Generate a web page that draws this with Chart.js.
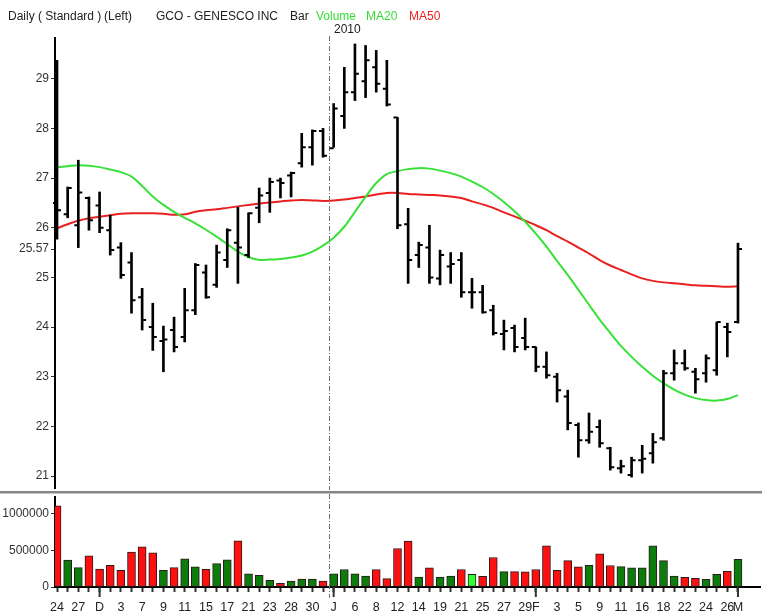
<!DOCTYPE html>
<html>
<head>
<meta charset="utf-8">
<script src="https://cdn.jsdelivr.net/npm/chart.js@4.4.1/dist/chart.umd.min.js"></script>
<style>
body { margin: 0; background: #fff; font-family: "Liberation Sans", Arial, sans-serif; }
#wrap { position: relative; width: 762px; height: 616px; overflow: hidden; }
canvas { position: absolute; left: 0; }
.hd { position: absolute; top: 9px; font-size: 12px; color: #222; white-space: pre; }
#sep { position: absolute; left: 0; top: 491px; width: 762px; height: 2px; background: #858585; border-bottom: 1px solid #c4c4c4; }
</style>
</head>
<body>
<div id="wrap">
  <canvas id="price" width="762" height="490" style="top:0"></canvas>
  <div id="sep"></div>
  <canvas id="vol" width="762" height="122" style="top:494px"></canvas>
  <span class="hd" style="left:8px">Daily ( Standard )</span>
  <span class="hd" style="left:104px">(Left)</span>
  <span class="hd" style="left:156px">GCO - GENESCO INC</span>
  <span class="hd" style="left:290px">Bar</span>
  <span class="hd" style="left:316px;color:#33dd33">Volume</span>
  <span class="hd" style="left:366px;color:#33dd33">MA20</span>
  <span class="hd" style="left:409px;color:#ee2222">MA50</span>
  <span class="hd" style="left:334px;top:22px">2010</span>
</div>
<script>
// trading days 24 Nov 2009 .. 1 Mar 2010, only every other day is labelled
const tickLabels = ['24','','27','','D','','3','','7','','9','','11','','15','','17','','21','','23','','28','','30','',
  'J','','6','','8','','12','','14','','19','','21','','25','','27','','29','F','','3','','5','','9','','11','','16','',
  '18','','22','','24','','26','M']
const yearStart = 26

const openP = [26.5,26.27,26.05,26.6,26.45,25.95,25.6,25.3,24.6,24.0,
  23.72,23.94,23.8,24.34,25.1,24.85,25.35,25.7,25.45,26.4,
  26.7,26.95,27.05,27.3,27.62,27.95,27.6,28.25,28.73,28.95,
  29.23,28.8,28.22,26.07,25.45,25.6,24.98,25.22,25.35,24.7,
  24.7,24.34,23.86,23.98,23.78,23.6,23.2,23.0,22.6,22.03,
  21.72,21.99,21.56,21.16,21.02,21.32,21.46,21.76,23.07,23.27,
  23.1,23.07,23.13,24.0,24.1]
const highP = [29.37,26.82,27.36,26.62,26.72,26.25,25.7,25.5,24.78,24.48,
  24.02,24.2,24.78,25.28,25.25,25.65,25.98,26.41,26.3,26.8,
  27.0,27.0,27.12,27.9,27.97,28.0,28.5,29.23,29.7,29.67,
  29.57,29.37,28.22,26.39,25.71,26.05,25.55,25.5,25.5,24.98,
  24.84,24.44,24.14,24.04,24.18,23.6,23.5,23.07,22.73,22.07,
  22.27,22.13,21.58,21.32,21.38,21.62,21.86,23.13,23.54,23.54,
  23.17,23.44,24.1,24.08,25.69]
const lowP = [25.77,26.2,25.6,25.95,25.9,25.45,24.98,24.28,23.94,23.53,
  23.1,23.5,23.7,24.25,24.58,24.8,25.2,24.88,25.4,26.1,
  26.31,26.6,26.62,27.22,27.26,27.42,27.62,28.0,28.56,28.62,
  28.73,28.45,25.98,24.88,25.2,24.88,24.85,24.88,24.6,24.38,
  24.28,23.84,23.54,23.5,23.54,23.1,22.97,22.49,21.93,21.38,
  21.66,21.58,21.12,21.06,20.98,21.06,21.26,21.72,22.93,23.13,
  22.67,22.89,23.03,23.4,24.08]
const closeP = [26.35,26.8,26.71,26.15,26.0,25.55,25.05,24.54,24.14,23.8,
  23.75,23.6,24.34,25.25,24.6,25.5,25.95,25.6,26.29,26.65,
  26.92,26.9,27.1,27.62,27.95,27.45,28.4,28.73,29.1,29.37,
  28.9,28.48,26.05,25.35,25.65,25.0,25.45,25.27,24.7,24.7,
  24.3,23.88,23.92,23.6,23.6,23.2,23.03,22.73,22.07,21.72,
  21.89,21.66,21.18,21.2,21.32,21.35,21.68,23.07,23.27,23.17,
  22.95,23.37,24.1,23.9,25.57]

const ma20 = [27.22,27.24,27.26,27.25,27.22,27.17,27.12,27.03,26.84,26.63,
  26.46,26.32,26.2,26.09,25.96,25.82,25.67,25.52,25.41,25.35,
  25.36,25.37,25.4,25.44,25.52,25.64,25.8,26.02,26.32,26.62,
  26.9,27.08,27.14,27.18,27.2,27.19,27.15,27.1,27.03,26.93,
  26.82,26.68,26.52,26.33,26.12,25.88,25.62,25.33,25.05,24.75,
  24.45,24.15,23.88,23.62,23.4,23.2,23.02,22.87,22.74,22.64,
  22.57,22.53,22.52,22.55,22.63]
const ma50 = [25.99,26.07,26.14,26.19,26.22,26.25,26.28,26.29,26.29,26.29,
  26.28,26.26,26.27,26.32,26.35,26.37,26.4,26.43,26.46,26.49,
  26.51,26.53,26.55,26.56,26.55,26.54,26.55,26.57,26.6,26.63,
  26.67,26.7,26.7,26.68,26.67,26.66,26.65,26.63,26.6,26.53,
  26.47,26.4,26.31,26.23,26.14,26.05,25.95,25.83,25.72,25.6,
  25.48,25.35,25.24,25.15,25.06,24.98,24.93,24.9,24.88,24.86,
  24.84,24.83,24.82,24.81,24.82]

const volume = [1110000,367000,266000,426000,247000,298000,229000,477000,549000,467000,
  229000,266000,385000,275000,243000,321000,371000,632000,179000,160000,
  92000,51000,82000,110000,110000,82000,179000,239000,179000,151000,
  239000,115000,527000,628000,137000,261000,137000,151000,239000,174000,
  147000,404000,211000,211000,206000,239000,563000,229000,362000,275000,
  298000,453000,294000,280000,261000,261000,563000,362000,151000,133000,
  119000,106000,174000,215000,380000]

const priceTicks = [21, 22, 23, 24, 25, 26, 27, 28, 29]
const volumeTicks = [0, 500000, 1000000]

const FONT = { family: '"Liberation Sans", Arial, sans-serif', size: 12 }
const X_MIN = -0.19, X_MAX = 66.07

// fixed axis width so both panels line up, no extra room for edge labels
const fixWidth = (scale) => {
	scale.width = 55
	scale.paddingTop = 0
	scale.paddingBottom = 0
}

const yearLine = {
	id: 'yearLine',
	afterDatasetsDraw(chart, args, opts) {
		const ctx = chart.ctx
		const x = Math.round(chart.scales.x.getPixelForValue(yearStart - 0.4)) + 0.5
		ctx.save()
		ctx.strokeStyle = '#707070'
		ctx.lineWidth = 1
		ctx.setLineDash([5, 2, 1, 2])
		ctx.beginPath()
		ctx.moveTo(x, opts.top)
		ctx.lineTo(x, opts.bottom)
		ctx.stroke()
		ctx.restore()
	}
}

// open tick to the left, close tick to the right
const ohlcTicks = {
	id: 'ohlcTicks',
	afterDatasetsDraw(chart) {
		const { ctx, scales: { x, y } } = chart
		ctx.save()
		ctx.strokeStyle = '#000'
		ctx.lineWidth = 2
		ctx.beginPath()
		openP.forEach((o, i) => {
			const px = x.getPixelForValue(i)
			const yo = y.getPixelForValue(o)
			const yc = y.getPixelForValue(closeP[i])
			ctx.moveTo(px - 4, yo)
			ctx.lineTo(px, yo)
			ctx.moveTo(px, yc)
			ctx.lineTo(px + 4, yc)
		})
		ctx.stroke()
		ctx.restore()
	}
}

const monthTicks = {
	id: 'monthTicks',
	afterDraw(chart) {
		const { ctx, scales: { x } } = chart
		ctx.save()
		ctx.strokeStyle = '#333'
		ctx.lineWidth = 2
		ctx.beginPath()
		tickLabels.forEach((t, i) => {
			if (!/[A-Z]/.test(t)) return
			const px = x.getPixelForValue(i)
			ctx.moveTo(px, x.top)
			ctx.lineTo(px, x.top + 10)
		})
		ctx.stroke()
		ctx.restore()
	}
}

new Chart(document.getElementById('price'), {
	type: 'bar',
	data: {
		datasets: [{
			label: 'Bar',
			data: lowP.map((l, i) => ({ x: i, y: [l, highP[i]] })),
			backgroundColor: '#000',
			borderWidth: 0,
			barThickness: 2,
			order: 0
		}, {
			type: 'line',
			label: 'MA20',
			data: ma20.map((v, i) => ({ x: i, y: v })),
			borderColor: '#38e038',
			borderWidth: 2,
			pointRadius: 0,
			tension: 0.3,
			order: 1
		}, {
			type: 'line',
			label: 'MA50',
			data: ma50.map((v, i) => ({ x: i, y: v })),
			borderColor: '#ea2020',
			borderWidth: 2,
			pointRadius: 0,
			tension: 0.3,
			order: 1
		}]
	},
	options: {
		responsive: false,
		animation: false,
		layout: { padding: { top: 38, bottom: 2, left: 0, right: 2 } },
		plugins: {
			legend: { display: false },
			tooltip: { enabled: false },
			yearLine: { top: 36, bottom: 490 }
		},
		scales: {
			x: { type: 'linear', min: X_MIN, max: X_MAX, offset: false, display: false },
			y: {
				min: 20.76, max: 29.82,
				afterFit: fixWidth,
				afterBuildTicks: (scale) => {
					scale.ticks = [...priceTicks, closeP[closeP.length - 1]].map(v => ({ value: v }))
				},
				ticks: { autoSkip: false, color: '#333', font: FONT, padding: 2, callback: (v) => String(v) },
				grid: { drawOnChartArea: false, tickLength: 4, tickColor: '#333' },
				border: { color: '#000', width: 2 }
			}
		}
	},
	plugins: [yearLine, ohlcTicks]
})

const volColor = closeP.map((c, i) => c > openP[i] ? '#0c7c0c' : c < openP[i] ? '#ff1010' : '#33ff33')

new Chart(document.getElementById('vol'), {
	type: 'bar',
	data: {
		datasets: [{
			label: 'Volume',
			data: volume.map((v, i) => ({ x: i, y: v })),
			backgroundColor: volColor,
			borderColor: '#2a1a1a',
			borderWidth: 1,
			borderSkipped: false,
			barThickness: 8
		}]
	},
	options: {
		responsive: false,
		animation: false,
		layout: { padding: { top: 3, bottom: 0, left: 0, right: 2 } },
		plugins: {
			legend: { display: false },
			tooltip: { enabled: false },
			yearLine: { top: 0, bottom: 104 }
		},
		scales: {
			x: {
				type: 'linear', min: X_MIN, max: X_MAX, offset: false,
				afterFit: (scale) => { scale.height = 29 },
				afterBuildTicks: (scale) => {
					scale.ticks = tickLabels.map((_, i) => ({ value: i }))
				},
				ticks: {
					autoSkip: false, maxRotation: 0, color: '#222', font: { ...FONT, size: 12.5 }, padding: 8,
					callback: (v) => tickLabels[v] ?? ''
				},
				grid: { drawOnChartArea: false, offset: false, tickLength: 5, tickColor: '#333', tickWidth: 2 },
				border: { color: '#000', width: 2 }
			},
			y: {
				min: 0, max: 1232000,
				afterFit: fixWidth,
				afterBuildTicks: (scale) => {
					scale.ticks = volumeTicks.map(v => ({ value: v }))
				},
				ticks: { autoSkip: false, color: '#333', font: FONT, padding: 2, callback: (v) => String(v) },
				grid: { drawOnChartArea: false, tickLength: 4, tickColor: '#333' },
				border: { color: '#000', width: 2 }
			}
		}
	},
	plugins: [yearLine, monthTicks]
})
</script>
</body>
</html>
